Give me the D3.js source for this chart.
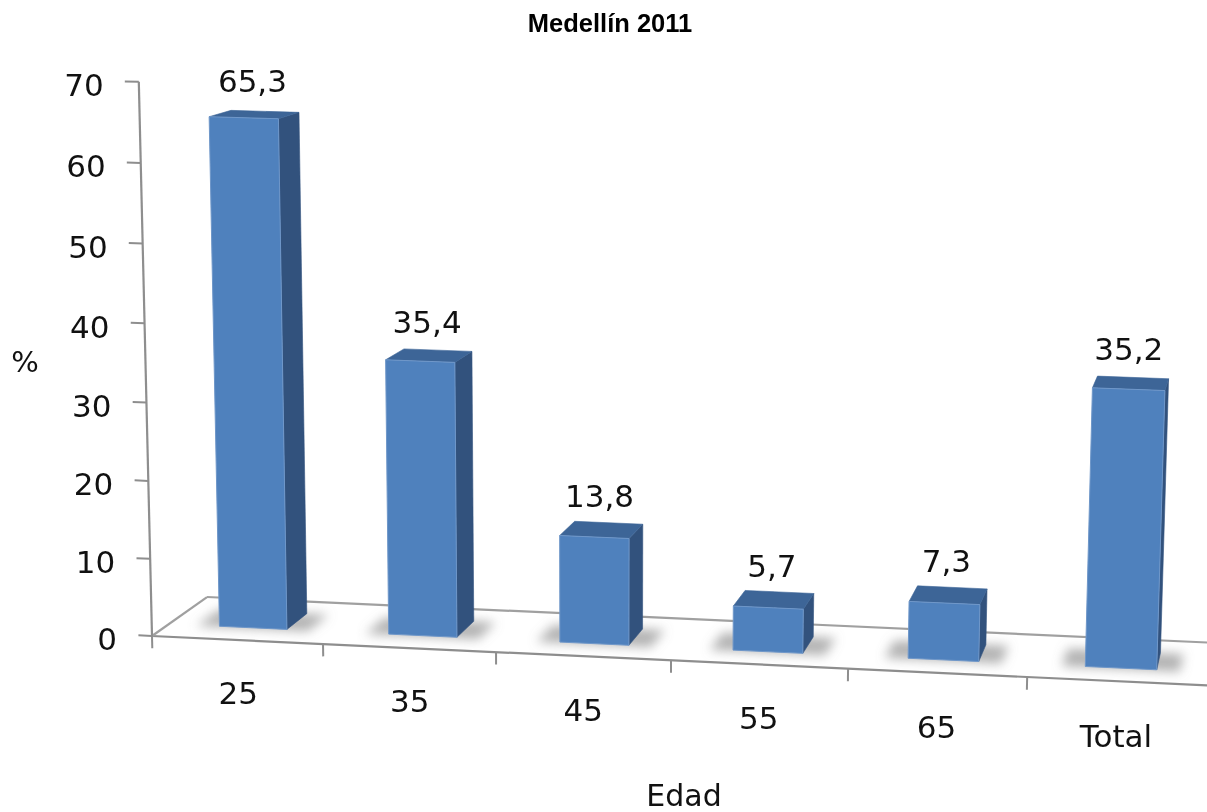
<!DOCTYPE html>
<html><head><meta charset="utf-8">
<script src="https://cdn.jsdelivr.net/npm/d3@7"></script>
<style>body{margin:0;background:#fff;overflow:hidden}</style>
</head><body>
<svg id="chart" width="1207" height="812"></svg>
<script>
// ---- data ----
const categories = ["25", "35", "45", "55", "65", "Total"];
const values = [65.3, 35.4, 13.8, 5.7, 7.3, 35.2];
const valueLabels = ["65,3", "35,4", "13,8", "5,7", "7,3", "35,2"];
const yTicks = [0, 10, 20, 30, 40, 50, 60, 70];
const titleText = "Medellín 2011";
const xTitle = "Edad";
const yTitle = "%";

// ---- scales (world coordinates) ----
const xBand = d3.scaleBand().domain(categories).range([0, categories.length])
  .paddingInner(0.6).paddingOuter(0.3);
const yScale = d3.scaleLinear().domain([0, 70]).range([0, 1]);
const zFront = 0.3, zBack = 0.7;

// ---- perspective camera (world -> screen) ----
const cam = {o:[152,636], ax:[169.2,4.36], ay:[-17.15,-556.5], az:[64.94,-10.32],
             cx:-0.00568, cy:-0.0285, cz:0.048};
function P(X, Y, Z) {
  const w = 1 + cam.cx*X + cam.cy*Y + cam.cz*Z;
  return [(cam.o[0] + cam.ax[0]*X + cam.ay[0]*Y + cam.az[0]*Z)/w,
          (cam.o[1] + cam.ax[1]*X + cam.ay[1]*Y + cam.az[1]*Z)/w];
}

const svg = d3.select("#chart");
const defs = svg.append("defs");
defs.append("filter").attr("id","blur").attr("x","-50%").attr("y","-50%").attr("width","200%").attr("height","200%")
  .append("feGaussianBlur").attr("stdDeviation", 5.5);

const lineCol = "#8e8e8e";
const font = "'DejaVu Sans', Verdana, sans-serif";
const nCat = categories.length;

function seg(g, a, b, col, w) {
  g.append("line").attr("x1", a[0]).attr("y1", a[1]).attr("x2", b[0]).attr("y2", b[1])
    .attr("stroke", col).attr("stroke-width", w);
}
const poly = pts => pts.map(p => p.join(",")).join(" ");

// ---- floor outline ----
const gAxis = svg.append("g");
seg(gAxis, P(0,0,0), P(nCat+0.3,0,0), lineCol, 2.2);
seg(gAxis, P(0,0,1), P(nCat+0.3,0,1), "#a0a0a0", 2.2);
seg(gAxis, P(0,0,0), P(0,0,1), "#a0a0a0", 2.2);
// category ticks
for (let i = 0; i <= nCat; i++) seg(gAxis, P(i,0,0), P(i,yScale(-1.6),0), lineCol, 2);
// value axis
seg(gAxis, P(0,0,0), P(0,yScale(70),0), lineCol, 2.2);
yTicks.forEach(v => seg(gAxis, P(0,yScale(v),0), P(-0.08,yScale(v),0), lineCol, 2));

// ---- shadows ----
const gShadow = svg.append("g").attr("filter","url(#blur)");
categories.forEach((c, i) => {
  const x0 = xBand(c) - 0.13, x1 = xBand(c) + xBand.bandwidth() + 0.13;
  gShadow.append("polygon")
    .attr("points", poly([P(x0,0,zFront-0.02), P(x1,0,zFront-0.02), P(x1,0,zBack), P(x0,0,zBack)]))
    .attr("fill", "#808080").attr("opacity", 0.6);
});

// ---- bars ----
const gBars = svg.append("g");
categories.forEach((c, i) => {
  const x0 = xBand(c), x1 = x0 + xBand.bandwidth(), Y = yScale(values[i]);
  const g = gBars.append("g");
  g.append("polygon").attr("points", poly([P(x1,0,zFront), P(x1,0,zBack), P(x1,Y,zBack), P(x1,Y,zFront)]))
    .attr("fill", "#32527d").attr("stroke", "#32527d").attr("stroke-width", 0.6);
  g.append("polygon").attr("points", poly([P(x0,Y,zFront), P(x1,Y,zFront), P(x1,Y,zBack), P(x0,Y,zBack)]))
    .attr("fill", "#3d6597").attr("stroke", "#3d6597").attr("stroke-width", 0.6);
  g.append("polygon").attr("points", poly([P(x0,0,zFront), P(x1,0,zFront), P(x1,Y,zFront), P(x0,Y,zFront)]))
    .attr("fill", "#4f81bd").attr("stroke", "#6f97c9").attr("stroke-width", 1);
});

// ---- data labels ----
categories.forEach((c, i) => {
  const xc = xBand(c) + xBand.bandwidth()/2;
  const p = P(xc, yScale(values[i]), 0.5);
  svg.append("text").attr("x", p[0] - 2).attr("y", p[1] - 23)
    .attr("text-anchor", "middle").attr("font-family", font).attr("font-size", 31)
    .attr("fill", "#111").text(valueLabels[i]);
});

// ---- category labels ----
categories.forEach((c, i) => {
  const xc = xBand(c) + xBand.bandwidth()/2;
  const p = P(xc, yScale(-6.9), 0);
  svg.append("text").attr("x", p[0]).attr("y", p[1]).attr("dy", "0.35em")
    .attr("text-anchor", "middle").attr("font-family", font).attr("font-size", 31)
    .attr("fill", "#111").text(c);
});

// ---- value tick labels ----
yTicks.forEach(v => {
  const p = P(0, yScale(v), 0);
  svg.append("text").attr("x", p[0] - 35).attr("y", p[1] + 3.5).attr("dy", "0.35em")
    .attr("text-anchor", "end").attr("font-family", font).attr("font-size", 31)
    .attr("fill", "#111").text(v);
});

// ---- titles ----
svg.append("text").attr("x", 610).attr("y", 32).attr("text-anchor", "middle")
  .attr("font-family", "'Liberation Sans', Arial, sans-serif").attr("font-weight", "bold")
  .attr("font-size", 25.5).attr("fill", "#000").text(titleText);
svg.append("text").attr("x", 684).attr("y", 806).attr("text-anchor", "middle")
  .attr("font-family", font).attr("font-size", 30).attr("fill", "#111").text(xTitle);
svg.append("text").attr("x", 25).attr("y", 362).attr("dy", "0.35em").attr("text-anchor", "middle")
  .attr("font-family", font).attr("font-size", 29).attr("fill", "#111").text(yTitle);
</script>
</body></html>
